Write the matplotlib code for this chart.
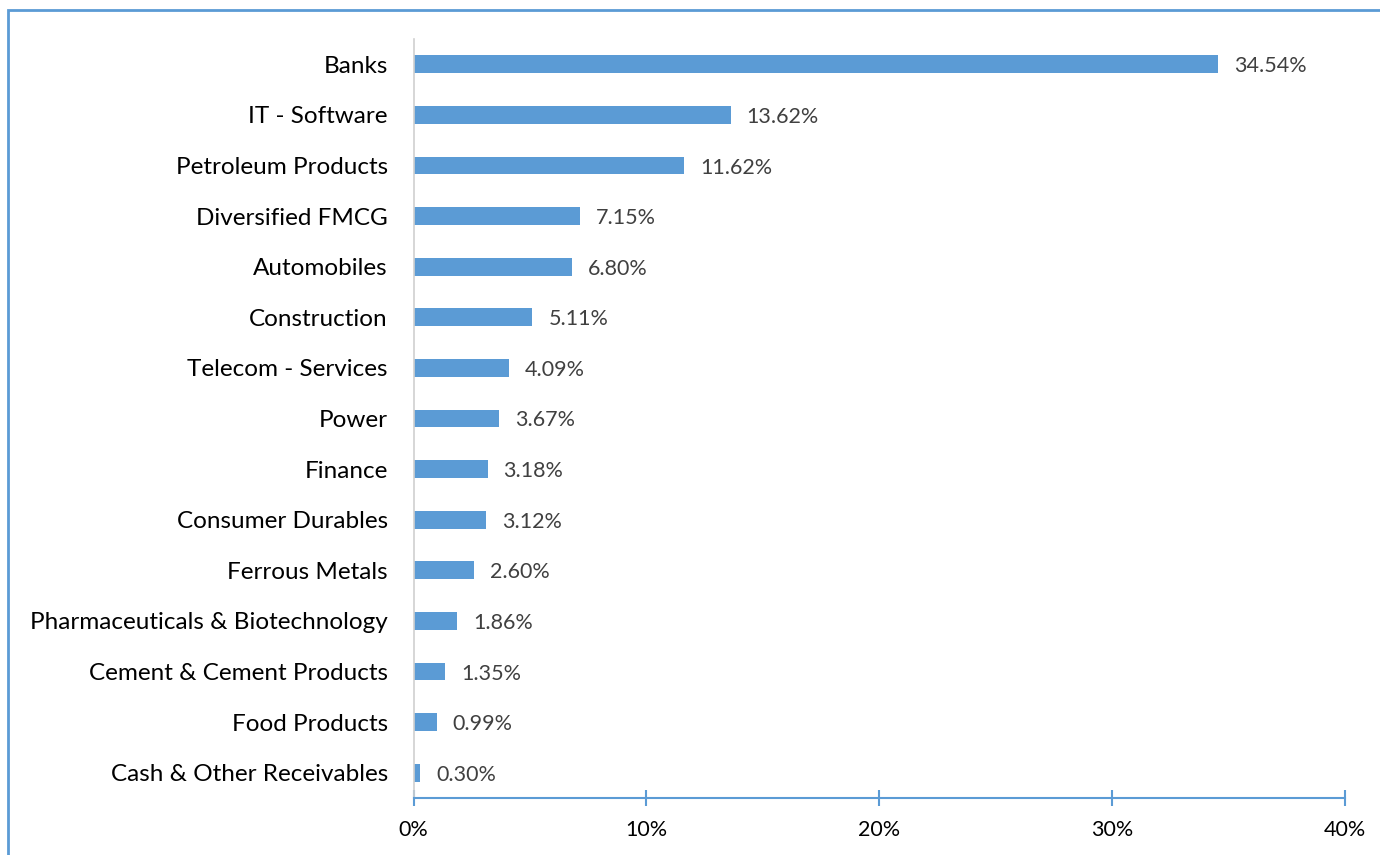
import matplotlib.pyplot as plt
from matplotlib.patches import Rectangle

# sector allocation (%), top to bottom as shown
sectors = ['Banks', 'IT - Software', 'Petroleum Products', 'Diversified FMCG',
           'Automobiles', 'Construction', 'Telecom - Services', 'Power',
           'Finance', 'Consumer Durables', 'Ferrous Metals',
           'Pharmaceuticals & Biotechnology', 'Cement & Cement Products',
           'Food Products', 'Cash & Other Receivables']
weights = [34.54, 13.62, 11.62, 7.15, 6.80, 5.11, 4.09, 3.67,
           3.18, 3.12, 2.60, 1.86, 1.35, 0.99, 0.30]
xticks = [0, 10, 20, 30, 40]

plt.rcParams['font.family'] = ['Lato', 'DejaVu Sans']

W, H = 1380, 855
fig = plt.figure(figsize=(W / 100, H / 100), dpi=100)
ax = fig.add_axes([413.5 / W, 1 - 798 / H, (1345 - 413.5) / W, (798 - 39) / H])

bar_color = '#5B9BD5'
ypos = list(range(len(sectors)))
ax.barh(ypos, weights, height=0.35, color=bar_color)
for y, v in zip(ypos, weights):
    ax.annotate(f'{v:.2f}%', (v, y), xytext=(16, -2), textcoords='offset pixels',
                va='center', ha='left', fontsize=15.5, color='#404040')

ax.set_xlim(0, 40)
ax.set_ylim(len(sectors) - 0.5, -0.5)
ax.set_yticks(ypos)
ax.set_yticklabels(sectors, fontsize=17.5, color='black')
ax.set_xticks(xticks)
ax.set_xticklabels([f'{t}%' for t in xticks], fontsize=15.5, color='black')

for s in ['top', 'right']:
    ax.spines[s].set_visible(False)
ax.spines['left'].set_color('#D0D0D0')
ax.spines['left'].set_linewidth(1.2)
ax.spines['bottom'].set_color(bar_color)
ax.spines['bottom'].set_linewidth(1.5)
ax.tick_params(axis='y', length=0, pad=18.5)
ax.tick_params(axis='x', direction='inout', length=11, width=1.5,
               color=bar_color, pad=10)

# outer chart border (partly cut off on right and bottom)
fig.patches.append(Rectangle((8 / W, -0.05), 1.1, 1 - 10 / H + 0.05,
                             transform=fig.transFigure, fill=False,
                             edgecolor=bar_color, linewidth=2))

fig.savefig('out.png', dpi=100)
